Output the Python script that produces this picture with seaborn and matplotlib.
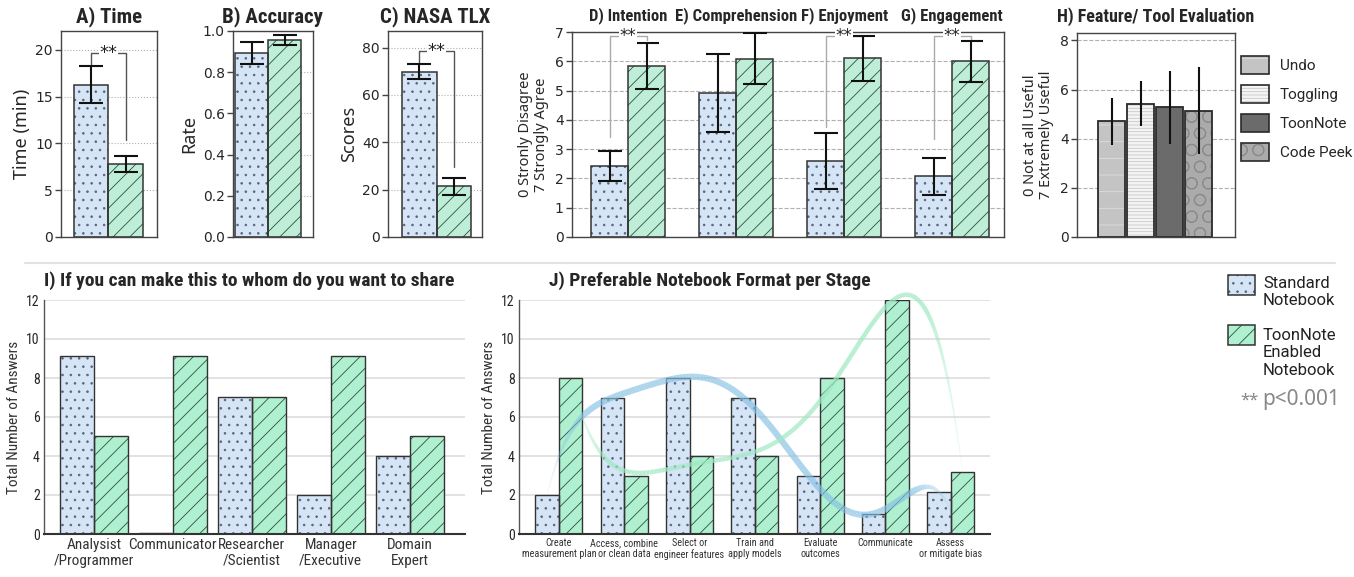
import numpy as np
import pandas as pd
import matplotlib
matplotlib.use("Agg")
import matplotlib.pyplot as plt
import matplotlib.colors as mcolors
from matplotlib.patches import Rectangle, Patch
from matplotlib.collections import LineCollection
from matplotlib.lines import Line2D
from matplotlib import font_manager
import seaborn as sns

# ---------------- data ----------------
conditions = ["Standard Notebook", "ToonNote Enabled Notebook"]

time_mean = [16.27, 7.8]
time_err = [1.95, 0.85]
acc_mean = [0.895, 0.955]
acc_err = [0.053, 0.025]
tlx_mean = [69.8, 21.4]
tlx_err = [3.1, 3.7]

likert_titles = ["D) Intention", "E) Comprehension", "F) Enjoyment", "G) Engagement"]
likert_std = [2.41, 4.92, 2.6, 2.07]
likert_std_err = [0.51, 1.32, 0.95, 0.64]
likert_toon = [5.84, 6.09, 6.1, 6.0]
likert_toon_err = [0.79, 0.86, 0.77, 0.7]
likert_sig = [3.4, None, 3.75, 3.35]

features = ["Undo", "Toggling", "ToonNote", "Code Peek"]
feature_mean = [4.7, 5.43, 5.28, 5.14]
feature_err = [0.95, 0.9, 1.48, 1.77]

share_roles = ["Analysist\n/Programmer", "Communicator", "Researcher\n/Scientist",
               "Manager\n/Executive", "Domain\nExpert"]
share_std = [9.15, 0.05, 7.05, 2.0, 4.0]
share_toon = [5.05, 9.15, 7.05, 9.15, 5.05]

stages = ["Create\nmeasurement plan", "Access, combine\nor clean data", "Select or\nengineer features",
          "Train and\napply models", "Evaluate\noutcomes", "Communicate", "Assess\nor mitigate bias"]
stage_std = [2, 7, 8, 7, 3, 1.05, 2.15]
stage_toon = [8, 3, 4, 4, 8, 12, 3.2]

# ---------------- style ----------------
BLUE = "#d5e5f6"
GREEN = "#bfeed8"
GREEN2 = "#aef0d0"
DOT = "#56647e"
HATCH_G = "#2f4f40"
EDGE = "#333333"
FEATURE_COLORS = ["#c4c4c4", "#f4f4f4", "#6b6b6b", "#ababab"]
FEATURE_HATCH = ["-", "-----", "", "O"]
FEATURE_HCOL = ["#dedede", "#c9c9c9", "#6b6b6b", "#8a8a8a"]


def pick_font(names):
    for n in names:
        try:
            font_manager.findfont(font_manager.FontProperties(family=n), fallback_to_default=False)
            return n
        except ValueError:
            pass
    return "DejaVu Sans"


sns.set_theme(style="white")
plt.rcParams["font.family"] = ["Noto Sans", "DejaVu Sans"]
plt.rcParams["hatch.linewidth"] = 0.6
NARROW = pick_font(["Liberation Sans Narrow", "DejaVu Sans Condensed", "Roboto Condensed"])

BAR_STYLES = {
    BLUE: ("..", DOT),
    GREEN: ("//", HATCH_G),
    GREEN2: ("//", HATCH_G),
}


def finish_bars(ax, lw=1.1):
    # hatch in its own colour, then a dark outline on top
    for p in list(ax.patches):
        key = mcolors.to_hex(p.get_facecolor())
        hatch, hcol = BAR_STYLES.get(key, ("", EDGE))
        p.set_hatch(hatch)
        p.set_edgecolor(hcol)
        p.set_linewidth(0)
        ax.add_patch(Rectangle(p.get_xy(), p.get_width(), p.get_height(), fill=False,
                               ec=EDGE, lw=lw, zorder=p.get_zorder() + 0.5))


def box_axes(ax, grid_ls):
    for s in ax.spines.values():
        s.set_visible(True)
        s.set_color("#444444")
        s.set_linewidth(1.0)
    ax.yaxis.grid(True, ls=grid_ls, color="#b0b0b0", lw=0.8)
    ax.set_axisbelow(True)
    ax.set_xticks([])
    ax.set_xlabel("")
    ax.tick_params(axis="y", left=True, length=4, width=1, color="#444444", labelsize=10, pad=2)
    for lab in ax.get_yticklabels():
        lab.set_family("DejaVu Sans")


def two_bar(ax, means, errs, ylim, yticks, ylabel, title, xlim, fmt=None):
    df = pd.DataFrame({"cond": conditions, "value": means})
    sns.barplot(data=df, x="cond", y="value", hue="cond", hue_order=conditions,
                palette=[BLUE, GREEN], width=1, saturation=1, legend=False, ax=ax, zorder=2)
    finish_bars(ax)
    ax.errorbar(range(2), means, yerr=errs, fmt="none", ecolor="#111111",
                elinewidth=1.5, capsize=8.5, capthick=1.5, zorder=4)
    ax.set_ylim(*ylim)
    ax.set_xlim(*xlim)
    ax.set_yticks(yticks)
    if fmt:
        ax.set_yticklabels([fmt.format(v) for v in yticks])
    box_axes(ax, ":")
    ax.set_ylabel(ylabel, fontsize=13, labelpad=3)
    ax.set_title(title, fontsize=15, fontweight="bold", family=NARROW, pad=6)


def sig(ax, x0, x1, y0, ytop, y1, color="#555555", size=13):
    ax.plot([x0, x0, x1, x1], [y0, ytop, ytop, y1], color=color, lw=1, zorder=3)
    ax.text((x0 + x1) / 2, ytop, "**", ha="center", va="center", fontsize=size,
            family="DejaVu Sans", color="#222222", zorder=5,
            bbox=dict(fc="white", ec="none", pad=0.3))


def soft_curve(ax, xs, ys, deg, color, lw, alpha, x0, x1):
    coef = np.polyfit(xs, ys, deg)
    xx = np.linspace(x0, x1, 300)
    yy = np.polyval(coef, xx)
    pts = np.column_stack([xx, yy]).reshape(-1, 1, 2)
    segs = np.concatenate([pts[:-1], pts[1:]], axis=1)
    t = np.linspace(0, 1, len(segs))
    taper = np.clip(np.sin(np.pi * t) * 3, 0.05, 1)
    rgba = np.tile(mcolors.to_rgba(color), (len(segs), 1))
    rgba[:, 3] = alpha * taper
    ax.add_collection(LineCollection(segs, colors=rgba, linewidths=lw * taper,
                                     capstyle="butt", zorder=5, clip_on=False))


W, H = 1354, 577
fig = plt.figure(figsize=(W / 100, H / 100), dpi=100)


def px_axes(x0, y0, x1, y1):
    return fig.add_axes([x0 / W, 1 - y1 / H, (x1 - x0) / W, (y1 - y0) / H])


# ---- A, B, C ----
axA = px_axes(61, 31, 157, 237)
two_bar(axA, time_mean, time_err, (0, 22), [0, 5, 10, 15, 20], "Time (min)", "A) Time", (-0.87, 1.9))
sig(axA, 0, 1, 18.4, 19.7, 10.4)

axB = px_axes(233, 31, 313, 237)
two_bar(axB, acc_mean, acc_err, (0, 1.0), [0, 0.2, 0.4, 0.6, 0.8, 1.0], "Rate", "B) Accuracy",
        (-0.56, 1.86), fmt="{:.1f}")

axC = px_axes(388, 31, 482, 237)
two_bar(axC, tlx_mean, tlx_err, (0, 87), [0, 20, 40, 60, 80], "Scores", "C) NASA TLX", (-0.9, 1.81))
sig(axC, 0, 1, 73.5, 78.5, 29.5)

# ---- D-G ----
axD = px_axes(572, 32, 1004, 237)
dfl = pd.DataFrame({
    "item": likert_titles * 2,
    "cond": [conditions[0]] * 4 + [conditions[1]] * 4,
    "value": likert_std + likert_toon,
})
wd = 0.69
sns.barplot(data=dfl, x="item", y="value", hue="cond", hue_order=conditions, palette=[BLUE, GREEN],
            width=wd, saturation=1, legend=False, ax=axD, zorder=2)
finish_bars(axD)
gx = np.arange(len(likert_titles))
axD.errorbar(gx - wd / 4, likert_std, yerr=likert_std_err, fmt="none", ecolor="#111111",
             elinewidth=1.5, capsize=8.5, capthick=1.5, zorder=4)
axD.errorbar(gx + wd / 4, likert_toon, yerr=likert_toon_err, fmt="none", ecolor="#111111",
             elinewidth=1.5, capsize=8.5, capthick=1.5, zorder=4)
for g, lo in zip(gx, likert_sig):
    if lo is not None:
        sig(axD, g - wd / 4, g + wd / 4, lo, 6.85, 6.72, color="#aaaaaa", size=12)
axD.set_ylim(0, 7)
axD.set_xlim(-0.52, 3.48)
axD.set_yticks(range(8))
box_axes(axD, "--")
axD.set_ylabel("0 Stronly Disagree\n7 Strongly Agree", fontsize=10.5, labelpad=4, linespacing=1.1)
for g, t in zip(gx, likert_titles):
    axD.text(g, 1.078, t, transform=axD.get_xaxis_transform(), ha="center", va="center",
             fontsize=12, fontweight="bold", family=NARROW)

# ---- H ----
axH = px_axes(1077, 33, 1235, 237)
dff = pd.DataFrame({"feature": features, "value": feature_mean})
sns.barplot(data=dff, x="feature", y="value", hue="feature", hue_order=features,
            palette=FEATURE_COLORS, width=0.93, saturation=1, legend=False, ax=axH, zorder=2)
for p, h, hc in zip(list(axH.patches), FEATURE_HATCH, FEATURE_HCOL):
    p.set_hatch(h)
    p.set_edgecolor(hc)
    p.set_linewidth(0)
    axH.add_patch(Rectangle(p.get_xy(), p.get_width(), p.get_height(), fill=False,
                            ec="#2a2a2a", lw=1.3, zorder=p.get_zorder() + 0.5))
axH.errorbar(range(len(features)), feature_mean, yerr=feature_err, fmt="none",
             ecolor="#111111", elinewidth=1.5, capsize=0, zorder=4)
axH.set_ylim(0, 8.3)
axH.set_xlim(-1.2, 4.24)
axH.set_yticks([0, 2, 4, 6, 8])
box_axes(axH, "--")
axH.set_ylabel("0 Not at all Useful\n7 Extremely Useful", fontsize=10.5, labelpad=4, linespacing=1.1)
axH.set_title("H) Feature/ Tool Evaluation", fontsize=13, fontweight="bold", family=NARROW, pad=8)

feat_handles = [(Patch(fc=c, hatch=h, ec=hc, lw=0), Patch(fill=False, ec="#2a2a2a", lw=1.2))
                for c, h, hc in zip(FEATURE_COLORS, FEATURE_HATCH, FEATURE_HCOL)]
fig.legend(feat_handles, features, loc="upper left", bbox_to_anchor=(1241 / W, 1 - 56 / H),
           frameon=False, prop={"family": "Roboto", "size": 11}, handlelength=1.8, handleheight=1.45,
           handletextpad=0.75, labelspacing=0.7, borderpad=0, borderaxespad=0)

# separator line between the two rows
fig.add_artist(Line2D([25 / W, 1335 / W], [1 - 263 / H] * 2, color="#e2e2e2", lw=1.5))


def count_panel(ax, cats, std, toon, width, xlim, title, title_x, title_ha, tick_size):
    df = pd.DataFrame({
        "cat": cats * 2,
        "cond": [conditions[0]] * len(cats) + [conditions[1]] * len(cats),
        "value": std + toon,
    })
    sns.barplot(data=df, x="cat", y="value", hue="cond", hue_order=conditions, palette=[BLUE, GREEN2],
                width=width, saturation=1, legend=False, ax=ax, zorder=2)
    finish_bars(ax, lw=1.0)
    ax.set_ylim(0, 12)
    ax.set_xlim(*xlim)
    ax.set_yticks(range(0, 13, 2))
    ax.yaxis.grid(True, color="#dddddd", lw=1.2)
    ax.set_axisbelow(True)
    sns.despine(ax=ax)
    ax.spines["left"].set_color("#555555")
    ax.spines["left"].set_linewidth(1.0)
    ax.spines["bottom"].set_color("#333333")
    ax.spines["bottom"].set_linewidth(1.5)
    ax.tick_params(length=0, pad=3)
    ax.set_xlabel("")
    ax.set_ylabel("Total Number of Answers", fontsize=11, family=NARROW, color="#333333", labelpad=4)
    for lab in ax.get_xticklabels():
        lab.set_family(NARROW)
        lab.set_fontsize(tick_size)
        lab.set_linespacing(1.15)
        lab.set_color("#333333")
    for lab in ax.get_yticklabels():
        lab.set_family(NARROW)
        lab.set_fontsize(10)
    ax.text(title_x, 1.081, title, transform=ax.transAxes, ha=title_ha, va="center",
            fontsize=14, fontweight="bold", family=NARROW)


# ---- I ----
axI = px_axes(44, 300, 465, 534)
count_panel(axI, share_roles, share_std, share_toon, 0.86, (-0.63, 4.7),
            "I) If you can make this to whom do you want to share", 0.0, "left", 11)

# ---- J ----
axJ = px_axes(519, 300, 990, 534)
wj = 0.72
count_panel(axJ, stages, stage_std, stage_toon, wj, (-0.61, 6.6),
            "J) Preferable Notebook Format per Stage", 0.405, "center", 7.3)
sx = np.arange(len(stages))
soft_curve(axJ, sx - wj / 4, stage_std, 6, "#86c1e4", 4.5, 0.7, -0.27, 6.14)
soft_curve(axJ, sx + wj / 4, stage_toon, 5, "#9fe9c2", 3.2, 0.75, 0.1, 6.3)

# ---- bottom legend (handles from the legend, labels top-aligned beside them) ----
cond_handles = [
    (Patch(fc=BLUE, hatch="..", ec=DOT, lw=0), Patch(fill=False, ec=EDGE, lw=1.1)),
    (Patch(fc=GREEN2, hatch="//", ec=HATCH_G, lw=0), Patch(fill=False, ec=EDGE, lw=1.1)),
]
fig.legend(cond_handles, ["", ""], loc="upper left",
           bbox_to_anchor=(1228 / W, 1 - 275 / H), frameon=False, fontsize=12,
           handlelength=1.62, handleheight=1.5, handletextpad=0.3, labelspacing=1.75,
           borderpad=0, borderaxespad=0)
cond_labels = ["Standard\nNotebook", "ToonNote\nEnabled\nNotebook"]
for lab, ytop in zip(cond_labels, [276, 328]):
    fig.text(1263 / W, 1 - ytop / H, lab, fontsize=12, family="Roboto", color="#222222",
             va="top", ha="left", linespacing=1.2)
fig.text(1240 / W, 1 - 401 / H, "**", fontsize=12, color="#888888", va="center", ha="left")
fig.text(1262 / W, 1 - 399 / H, "p<0.001", fontsize=15, color="#888888", va="center", ha="left")

fig.savefig("out.png", dpi=100)
